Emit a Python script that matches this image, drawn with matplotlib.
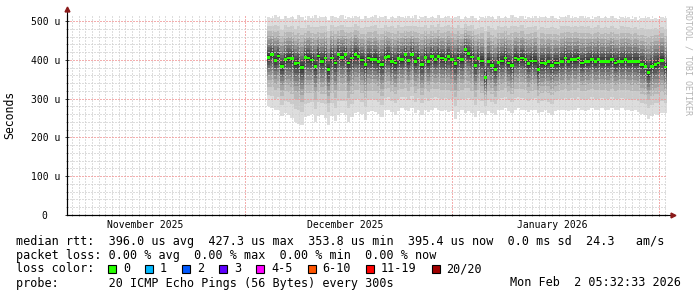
import datetime as dt
import numpy as np
import matplotlib
matplotlib.use("Agg")
import matplotlib.pyplot as plt
import matplotlib.dates as mdates
import matplotlib.transforms as mtransforms
from matplotlib.patches import Rectangle
from matplotlib.ticker import MultipleLocator, NullFormatter, FixedLocator

plt.rcParams['font.family'] = ['DejaVu Sans Mono']

# ---- chart values (microseconds), one value per 12 h bin ----
bin_start = dt.datetime(2025, 12, 4, 5, 30)
bin_hours = 12

median_us = [
    407, 414, 399, 410, 384, 401, 405, 403, 390, 392,
    380, 407, 405, 400, 384, 410, 396, 405, 375, 405,
    392, 415, 407, 415, 392, 405, 414, 409, 400, 388,
    405, 401, 402, 396, 388, 407, 409, 396, 392, 403,
    401, 414, 398, 414, 396, 405, 388, 407, 396, 409,
    401, 409, 405, 401, 409, 401, 390, 405, 401, 427,
    416, 408, 386, 403, 397, 354, 396, 386, 376, 394,
    397, 405, 392, 386, 405, 401, 405, 401, 390, 397,
    397, 375, 392, 390, 396, 386, 392, 392, 396, 405,
    396, 401, 401, 405, 392, 396, 396, 401, 396, 401,
    396, 396, 396, 401, 392, 396, 396, 401, 396, 396,
    396, 396, 388, 384, 367, 384, 388, 392, 399, 382,
]

lowest_us = [
    280, 275, 270, 272, 255, 262, 258, 250, 240, 235,
    232, 252, 255, 260, 240, 255, 258, 250, 232, 255,
    242, 258, 262, 258, 240, 252, 262, 265, 260, 245,
    265, 268, 265, 260, 252, 270, 272, 265, 258, 268,
    275, 272, 268, 275, 262, 270, 258, 272, 265, 270,
    275, 270, 268, 272, 265, 268, 248, 265, 270, 262,
    268, 262, 252, 268, 262, 258, 268, 262, 258, 270,
    272, 275, 268, 262, 272, 275, 272, 270, 265, 270,
    272, 262, 265, 270, 262, 258, 268, 270, 272, 270,
    268, 272, 270, 275, 270, 268, 272, 275, 272, 270,
    275, 272, 270, 275, 270, 272, 275, 270, 272, 268,
    270, 265, 260, 258, 248, 255, 260, 258, 262, 262,
]

highest_us = [
    512, 508, 515, 510, 505, 514, 509, 512, 506, 515,
    510, 504, 513, 509, 515, 507, 512, 510, 503, 514,
    511, 508, 515, 506, 512, 509, 514, 510, 505, 513,
    508, 512, 515, 507, 510, 513, 506, 512, 509, 514,
    510, 507, 513, 509, 515, 506, 511, 514, 508, 512,
    509, 515, 507, 511, 513, 508, 510, 514, 506, 512,
    509, 513, 507, 504, 511, 508, 514, 510, 506, 513,
    509, 512, 507, 515, 510, 508, 513, 506, 511, 509,
    514, 507, 512, 510, 508, 513, 509, 506, 512, 510,
    515, 508, 511, 507, 513, 509, 512, 506, 510, 514,
    508, 511, 507, 513, 509, 505, 512, 508, 510, 506,
    511, 504, 509, 507, 512, 506, 508, 505, 510, 507,
]

# where the 20 sorted pings sit, as share of the distance median -> lowest / highest
lower_share = [1.0, 0.77, 0.60, 0.47, 0.375, 0.30, 0.22, 0.16, 0.09, 0.04]
upper_share = [1.0, 0.78, 0.64, 0.51, 0.42, 0.33, 0.24, 0.18, 0.107, 0.045]

t_start = dt.datetime(2025, 11, 4, 5, 32, 33)
t_end = dt.datetime(2026, 2, 2, 5, 32, 33)

month_labels = ["November 2025", "December 2025", "January 2026"]
month_label_dates = [dt.datetime(2025, 11, 16), dt.datetime(2025, 12, 16), dt.datetime(2026, 1, 16)]

y_ticks = [0, 100, 200, 300, 400, 500]
y_tick_labels = ["0  ", "100 u", "200 u", "300 u", "400 u", "500 u"]

loss_labels = ["0", "1", "2", "3", "4-5", "6-10", "11-19", "20/20"]
loss_colors = ["#26ff00", "#00b8ff", "#0059ff", "#5e00ff", "#ff00ff", "#ff5500", "#ff0000", "#a00000"]

stats_line = "median rtt:  396.0 us avg  427.3 us max  353.8 us min  395.4 us now  0.0 ms sd  24.3   am/s"
loss_line = "packet loss: 0.00 % avg  0.00 % max  0.00 % min  0.00 % now"
probe_line = "probe:       20 ICMP Echo Pings (56 Bytes) every 300s"
stamp = "Mon Feb  2 05:32:33 2026"

W, H = 697, 297


def fx(px):
    return px / W


def fy(py):
    return 1 - py / H


fig = plt.figure(figsize=(W / 100, H / 100), dpi=100)
fig.patch.set_facecolor("white")
ax = fig.add_axes([fx(67), fy(215), 600 / W, 200 / H])

med = np.array(median_us, dtype=float)
low = np.array(lowest_us, dtype=float)
high = np.array(highest_us, dtype=float)
n = len(med)
edges = mdates.date2num([bin_start + dt.timedelta(hours=bin_hours * k) for k in range(n + 1)])


def ext(a):
    return np.append(a, a[-1])


# smoke: outer pair lightest, inner pair darkest
half = len(lower_share)
for i in range(half):
    g = int(190 / half * (half - (i + 1))) + 50
    col = "#%02x%02x%02x" % (g, g, g)
    bot = med - lower_share[i] * (med - low)
    top = med + upper_share[i] * (high - med)
    ax.fill_between(edges, ext(bot), ext(top), step="post", color=col,
                    linewidth=0, antialiased=False, zorder=1)

# median, coloured by loss (no loss here)
ax.fill_between(edges, ext(med - 3.5), ext(med + 3.5), step="post", color=loss_colors[0],
                linewidth=0, antialiased=False, zorder=3)

ax.set_xlim(mdates.date2num(t_start), mdates.date2num(t_end))
ax.set_ylim(0, 516)

ax.xaxis.set_major_locator(mdates.MonthLocator())
ax.xaxis.set_minor_locator(mdates.DayLocator())
ax.xaxis.set_major_formatter(NullFormatter())
ax.yaxis.set_major_locator(FixedLocator(y_ticks))
ax.yaxis.set_minor_locator(MultipleLocator(20))
ax.set_yticklabels(y_tick_labels)

ax.set_axisbelow(False)
ax.grid(which="minor", color="#d2d2d2", linestyle=(0, (1.4, 1.4)), linewidth=0.72,
        alpha=0.75, antialiased=False)
ax.grid(which="major", color="#f09a9a", linestyle=(0, (1.4, 1.4)), linewidth=0.72,
        alpha=0.8, antialiased=False)

ax.tick_params(which="major", direction="inout", length=3, width=0.72, color="#404040",
               labelsize=7, pad=3.5)
ax.tick_params(axis="x", which="major", length=2)
ax.tick_params(which="minor", direction="inout", length=2, width=0.6, color="#808080")

for s in ["top", "right"]:
    ax.spines[s].set_visible(False)
for s in ["left", "bottom"]:
    ax.spines[s].set_linewidth(0.8)
    ax.spines[s].set_color("black")

# axis extensions with arrows
ax.plot([0, 0], [0, 1.03], transform=ax.transAxes, color="black", lw=0.8, clip_on=False, zorder=4)
ax.plot([0, 1.01], [0, 0], transform=ax.transAxes, color="black", lw=0.8, clip_on=False, zorder=4)
ax.plot([0], [1.03], marker="^", ms=3.5, color="#8b1a1a", transform=ax.transAxes, clip_on=False, zorder=5)
ax.plot([1.01], [0], marker=">", ms=3.5, color="#8b1a1a", transform=ax.transAxes, clip_on=False, zorder=5)

trans = mtransforms.blended_transform_factory(ax.transData, fig.transFigure)
for d, lab in zip(month_label_dates, month_labels):
    ax.text(mdates.date2num(d), fy(225), lab, transform=trans, ha="center", va="center", fontsize=7)

fig.text(fx(10), fy(115), "Seconds", rotation=90, ha="center", va="center", fontsize=8.3)
fig.text(fx(688), fy(60), "RRDTOOL / TOBI OETIKER", rotation=270, ha="center", va="center",
         fontsize=6, color="#b4b4b4")

fs = 8.5
fig.text(fx(16), fy(241), stats_line, ha="left", va="center", fontsize=fs)
fig.text(fx(16), fy(255), loss_line, ha="left", va="center", fontsize=fs)
fig.text(fx(16), fy(269), "loss color:", ha="left", va="center", fontsize=fs)
fig.text(fx(16), fy(283), probe_line, ha="left", va="center", fontsize=fs)
fig.text(fx(681), fy(283), stamp, ha="right", va="center", fontsize=fs)

char_w = 7.1
x = 108
for lab, col in zip(loss_labels, loss_colors):
    fig.patches.append(Rectangle((fx(x), fy(273)), 8 / W, 8 / H, transform=fig.transFigure,
                                 facecolor=col, edgecolor="black", linewidth=0.8))
    fig.text(fx(x + 15), fy(269), lab, ha="left", va="center", fontsize=fs)
    x += 15 + len(lab) * char_w + 15

fig.savefig("out.png", dpi=100)
